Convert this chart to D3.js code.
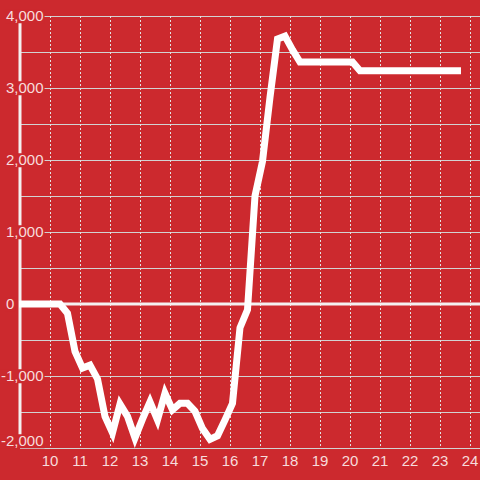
<!DOCTYPE html>
<html>
<head>
<meta charset="utf-8">
<script src="https://cdn.jsdelivr.net/npm/d3@7"></script>
<style>
  html, body { margin: 0; padding: 0; background: #cc292e; }
  svg { display: block; }
  text { font-family: 'Liberation Sans', Arial, sans-serif; font-size: 15px; }
</style>
</head>
<body>
<div class="chart"></div>
<script>
'use strict';

// time of day (hours, readings at :05 :20 :35 :50)
const hours = [
  9.083, 9.333, 9.583, 9.833, 10.083, 10.333, 10.583, 10.833,
  11.083, 11.333, 11.583, 11.833, 12.083, 12.333, 12.583, 12.833,
  13.083, 13.333, 13.583, 13.833, 14.083, 14.333, 14.583, 14.833,
  15.083, 15.333, 15.583, 15.833, 16.083, 16.333, 16.583, 16.833,
  17.083, 17.333, 17.583, 17.833, 18.083, 18.333, 18.583, 18.833,
  19.083, 19.333, 19.583, 19.833, 20.083, 20.333, 20.583, 20.833,
  21.083, 21.333, 21.583, 21.833, 22.083, 22.333, 22.583, 22.833,
  23.083, 23.333, 23.583
];

const values = [
  0, 0, 0, 0, 0, 0, -130, -660,
  -890, -850, -1040, -1560, -1790, -1390, -1560, -1860,
  -1600, -1360, -1610, -1240, -1470, -1380, -1380, -1490,
  -1730, -1880, -1830, -1610, -1380, -330, -80, 1500,
  1980, 2870, 3680, 3720, 3530, 3360, 3360, 3360,
  3360, 3360, 3360, 3360, 3360, 3240, 3240, 3240,
  3240, 3240, 3240, 3240, 3240, 3240, 3240, 3240,
  3240, 3240, 3240
];

const xTicks = [10, 11, 12, 13, 14, 15, 16, 17, 18, 19, 20, 21, 22, 23, 24];
const yTicks = [-2000, -1000, 0, 1000, 2000, 3000, 4000];
const yGrid = [-2000, -1500, -1000, -500, 0, 500, 1000, 1500, 2000, 2500, 3000, 3500, 4000];

const BG = '#cc292e';
const WIDTH = 480;
const HEIGHT = 480;
const plot = {left: 20, right: 480, top: 16, bottom: 448};

const data = hours.map((h, i) => ({h: h, v: values[i]}));

const svg = d3.select('.chart')
  .append('svg')
    .attr('width', WIDTH)
    .attr('height', HEIGHT);

const x = d3.scaleLinear()
  .domain([9, 24 + 1 / 3])
  .range([plot.left, plot.right]);

const y = d3.scaleLinear()
  .domain([-2000, 4000])
  .range([plot.bottom, plot.top]);

svg.append('rect')
  .attr('width', WIDTH)
  .attr('height', HEIGHT)
  .attr('fill', BG);

// horizontal grid
svg.selectAll('.hgrid')
  .data(yGrid.filter((d) => d !== 0))
  .enter()
  .append('line')
    .attr('class', 'hgrid')
    .attr('x1', plot.left)
    .attr('x2', plot.right)
    .attr('y1', (d) => Math.round(y(d)) + 0.5)
    .attr('y2', (d) => Math.round(y(d)) + 0.5)
    .attr('stroke', '#d2d2d2')
    .attr('stroke-width', 1);

// vertical dashed grid
svg.selectAll('.vgrid')
  .data(xTicks)
  .enter()
  .append('line')
    .attr('class', 'vgrid')
    .attr('x1', (d) => Math.round(x(d)) + 0.5)
    .attr('x2', (d) => Math.round(x(d)) + 0.5)
    .attr('y1', plot.top)
    .attr('y2', plot.bottom)
    .attr('stroke', '#e2e2e2')
    .attr('stroke-width', 1)
    .attr('stroke-dasharray', '2,2');

// zero line
svg.append('line')
  .attr('x1', plot.left)
  .attr('x2', plot.right)
  .attr('y1', y(0))
  .attr('y2', y(0))
  .attr('stroke', '#f4f0f0')
  .attr('stroke-width', 3);

// left axis line
svg.append('line')
  .attr('x1', plot.left)
  .attr('x2', plot.left)
  .attr('y1', y(4000))
  .attr('y2', y(-2000))
  .attr('stroke', '#f4f0f0')
  .attr('stroke-width', 3);

const line = d3.line()
  .x((d) => x(d.h))
  .y((d) => y(d.v));

svg.append('path')
  .datum(data)
  .attr('d', line)
  .attr('fill', 'none')
  .attr('stroke', '#ffffff')
  .attr('stroke-width', 7)
  .attr('stroke-linecap', 'square');

// y labels, left aligned with a hanging minus, on a red patch
const fmt = d3.format(',');
const minusW = (() => {
  const t = svg.append('text').text('-');
  const w = t.node().getComputedTextLength();
  t.remove();
  return w;
})();

const yLab = svg.selectAll('.ylab')
  .data(yTicks)
  .enter()
  .append('g')
    .attr('class', 'ylab');

yLab.append('text')
  .attr('x', (d) => d < 0 ? 6 - minusW : 6)
  .attr('y', (d) => Math.min(y(d), plot.bottom - 7))
  .attr('dy', '0.35em')
  .attr('fill', '#f7dcdc')
  .text((d) => fmt(d).replace('−', '-'));

yLab.each(function () {
  const g = d3.select(this);
  const bb = g.select('text').node().getBBox();
  g.insert('rect', 'text')
    .attr('x', bb.x - 1)
    .attr('y', bb.y + 2)
    .attr('width', bb.width + 2)
    .attr('height', bb.height - 3)
    .attr('fill', BG);
});

// x labels
svg.selectAll('.xlab')
  .data(xTicks)
  .enter()
  .append('text')
    .attr('class', 'xlab')
    .attr('x', (d) => x(d))
    .attr('y', plot.bottom + 18)
    .attr('text-anchor', 'middle')
    .attr('fill', '#f7dcdc')
    .text((d) => d);
</script>
</body>
</html>
